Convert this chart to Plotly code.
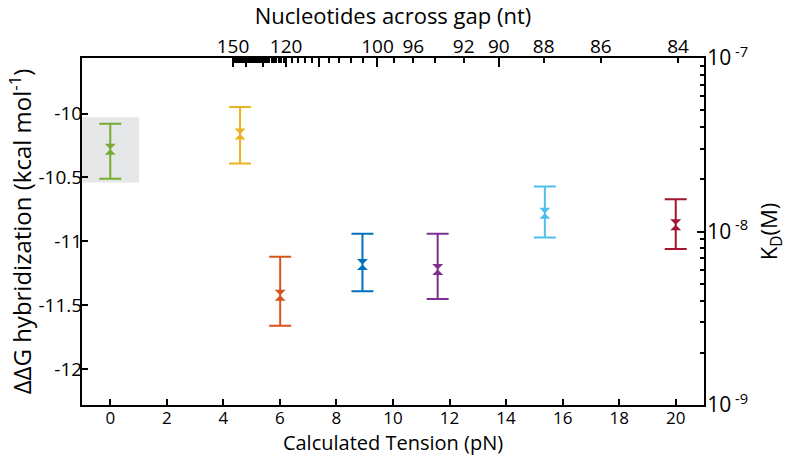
import numpy as np
import plotly.graph_objects as go

# Hybridization free energy vs. calculated tension
tension = [0.0, 4.59, 6.01, 8.92, 11.58, 15.37, 20.0]
dg = [-10.28, -10.16, -11.42, -11.18, -11.22, -10.78, -10.87]
dg_high = [-10.08, -9.95, -11.12, -10.94, -10.94, -10.57, -10.67]
dg_low = [-10.51, -10.39, -11.66, -11.39, -11.45, -10.97, -11.06]
colors = ["#77AC30", "#EDB120", "#D95319", "#0072BD", "#7E2F8E", "#4DBEEE", "#A2142F"]

# Zero-tension reference band
band_tension = [-1.0, 1.02]
band_dg = [-10.54, -10.03]

# Gap length (nt) -> tension (pN) calibration for the top axis
nt_anchor = [84, 86, 88, 90, 92, 94, 96, 98, 100, 110, 120, 130, 150]
tension_anchor = [20.08, 17.35, 15.33, 13.74, 12.50, 11.50, 10.72, 10.05, 9.45, 7.39, 6.22, 5.41, 4.34]
nt_labels = [150, 120, 100, 96, 92, 90, 88, 86, 84]
nt_long = [150, 140, 130, 120, 110, 100, 90]
nt_minor = list(range(84, 120, 2)) + list(range(121, 150))

x_ticks = [0, 2, 4, 6, 8, 10, 12, 14, 16, 18, 20]
y_ticks = [-10, -10.5, -11, -11.5, -12]
kd_ticks = [1e-9, 1e-8, 1e-7]
kd_labels = ["10<sup> -9</sup>", "10<sup> -8</sup>", "10<sup> -7</sup>"]
kd_minor = [m * 1e-9 for m in range(2, 10)] + [m * 1e-8 for m in range(2, 10)]

x_range = [-1.0, 21.0]
y_range = [-12.279, -9.566]
kd_log_range = [-9, -7]

# kcal/mol per decade of K_D implied by the two vertical scales
dg_per_decade = (y_range[1] - y_range[0]) / (kd_log_range[1] - kd_log_range[0])


def nt_to_tension(n):
    # interpolate in 1/F, which varies smoothly with gap length
    inv = np.interp(n, nt_anchor, 1.0 / np.array(tension_anchor))
    return float(1.0 / inv)


FONT = "Open Sans"
fig = go.Figure()

fig.add_shape(type="rect", xref="x", yref="y",
              x0=band_tension[0], x1=band_tension[1],
              y0=band_dg[0], y1=band_dg[1],
              fillcolor="#E6E7E8", line_width=0, layer="below")

for t, v, hi, lo, c in zip(tension, dg, dg_high, dg_low, colors):
    fig.add_trace(go.Scatter(
        x=[t], y=[v], mode="markers",
        marker=dict(symbol="hourglass", size=11, color=c, line_width=0),
        error_y=dict(type="data", symmetric=False,
                     array=[hi - v], arrayminus=[v - lo],
                     color=c, thickness=2, width=11),
        showlegend=False, hoverinfo="skip"))

# transparent copies that attach the secondary axes
kd = [10 ** (v / dg_per_decade) for v in dg]
for xa, ya, yv in [("x2", "y", dg), ("x3", "y", dg), ("x", "y2", kd)]:
    fig.add_trace(go.Scatter(x=tension, y=yv, xaxis=xa, yaxis=ya,
                             mode="markers", marker=dict(opacity=0),
                             showlegend=False, hoverinfo="skip"))

axis_common = dict(showgrid=False, zeroline=False, showline=True,
                   linecolor="black", linewidth=2, ticks="inside",
                   tickcolor="black", tickwidth=1.5, automargin=False,
                   tickfont=dict(family=FONT, size=19, color="black"))

fig.update_layout(
    width=787, height=456,
    margin=dict(l=82, r=83, t=58, b=51),
    paper_bgcolor="white", plot_bgcolor="white",
    font=dict(family=FONT, color="black"),
    xaxis=dict(axis_common, range=x_range, tickmode="array", tickvals=x_ticks,
               ticklen=6, ticklabelstandoff=-3,
               tickfont=dict(family=FONT, size=17, color="black"),
               title=dict(text="Calculated Tension (pN)",
                          font=dict(family=FONT, size=20), standoff=10)),
    yaxis=dict(axis_common, range=y_range, tickmode="array", tickvals=y_ticks,
               ticktext=[f"{v:g}" for v in y_ticks], ticklen=6,
               ticklabelstandoff=-6,
               title=dict(text="ΔΔG hybridization (kcal mol<sup>-1</sup>)",
                          font=dict(family=FONT, size=24), standoff=0)),
    xaxis2=dict(axis_common, overlaying="x", side="top", anchor="y",
                range=x_range, tickmode="array",
                tickvals=[nt_to_tension(n) for n in nt_labels],
                ticktext=[str(n) for n in nt_labels], ticklen=5,
                ticklabelstandoff=-5,
                minor=dict(tickmode="array",
                           tickvals=[nt_to_tension(n) for n in nt_minor],
                           ticks="inside", ticklen=5, tickwidth=1.5,
                           tickcolor="black"),
                title=dict(text="Nucleotides across gap (nt)",
                           font=dict(family=FONT, size=22), standoff=4)),
    xaxis3=dict(axis_common, overlaying="x", side="top", anchor="y",
                range=x_range, tickmode="array",
                tickvals=[nt_to_tension(n) for n in nt_long],
                showticklabels=False, ticklen=9),
    yaxis2=dict(axis_common, overlaying="y", side="right", anchor="x",
                type="log", range=kd_log_range, tickmode="array",
                tickvals=kd_ticks, ticktext=kd_labels, ticklen=7,
                ticklabelstandoff=-3,
                tickfont=dict(family=FONT, size=21, color="black"),
                minor=dict(tickmode="array", tickvals=kd_minor,
                           ticks="inside", ticklen=4, tickwidth=1.5,
                           tickcolor="black"),
                title=dict(text="K<sub>D</sub>(M)",
                           font=dict(family=FONT, size=22), standoff=18)),
)

fig.write_html("out.html")
